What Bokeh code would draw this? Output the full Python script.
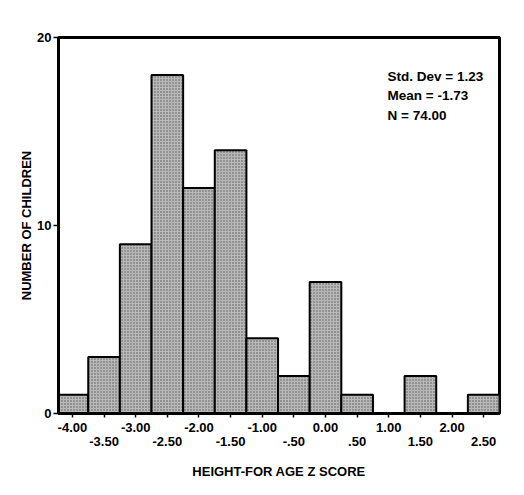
from bokeh.plotting import figure
from bokeh.models import FixedTicker, LinearAxis, Label, Range1d
from bokeh.embed import file_html
from bokeh.resources import INLINE

# ---- data ----
bin_centers = [-4.0, -3.5, -3.0, -2.5, -2.0, -1.5, -1.0, -0.5, 0.0, 0.5, 1.0, 1.5, 2.0, 2.5]
counts = [1, 3, 9, 18, 12, 14, 4, 2, 7, 1, 0, 2, 0, 1]
row1_ticks = [-4.0, -3.0, -2.0, -1.0, 0.0, 1.0, 2.0]
row1_labels = ["-4.00", "-3.00", "-2.00", "-1.00", "0.00", "1.00", "2.00"]
row2_ticks = [-3.5, -2.5, -1.5, -0.5, 0.5, 1.5, 2.5]
row2_labels = ["-3.50", "-2.50", "-1.50", "-.50", ".50", "1.50", "2.50"]
y_ticks = [0, 10, 20]
stats_lines = ["Std. Dev = 1.23", "Mean = -1.73", "N = 74.00"]
x_title = "HEIGHT-FOR AGE Z SCORE"
y_title = "NUMBER OF CHILDREN"

FONT = "Liberation Sans"

p = figure(width=524, height=495, output_backend="svg", toolbar_location=None,
           x_range=Range1d(-4.22, 2.75), y_range=Range1d(0, 20),
           min_border_left=58, min_border_right=25, min_border_top=37, min_border_bottom=82)
p.grid.visible = False
p.outline_line_color = "black"
p.outline_line_width = 3
p.background_fill_color = "white"
p.border_fill_color = "white"

p.vbar(x=bin_centers, top=counts, width=0.5, bottom=0,
       fill_color="#b8b8b8", line_color="black", line_width=2,
       hatch_pattern="dot", hatch_color="#5a5a5a", hatch_scale=3, hatch_weight=1)

# main x-axis: ticks at every bin, labels on whole numbers
xa = p.xaxis[0]
xa.ticker = FixedTicker(ticks=bin_centers)
overrides = {}
for t in bin_centers:
    overrides[t] = ""
for t, lab in zip(row1_ticks, row1_labels):
    overrides[t] = lab
xa.major_label_overrides = overrides
xa.minor_tick_line_color = None
xa.major_tick_out = 4
xa.major_tick_in = 0
xa.major_tick_line_width = 1.5
xa.axis_line_width = 3
xa.major_label_standoff = 5
xa.major_label_text_font = FONT
xa.major_label_text_font_style = "bold"
xa.major_label_text_font_size = "13px"
xa.major_label_text_color = "black"

# second row of labels
xb = LinearAxis(ticker=FixedTicker(ticks=row2_ticks))
xb.major_label_overrides = {t: lab for t, lab in zip(row2_ticks, row2_labels)}
xb.axis_line_color = None
xb.major_tick_line_color = None
xb.minor_tick_line_color = None
xb.major_tick_out = 0
xb.major_tick_in = 0
xb.major_label_standoff = 2
xb.major_label_text_font = FONT
xb.major_label_text_font_style = "bold"
xb.major_label_text_font_size = "13px"
xb.major_label_text_color = "black"
xb.axis_label = x_title
xb.axis_label_standoff = 15
xb.axis_label_text_font = FONT
xb.axis_label_text_font_style = "bold"
xb.axis_label_text_font_size = "13px"
xb.axis_label_text_color = "black"
p.add_layout(xb, "below")

ya = p.yaxis[0]
ya.ticker = FixedTicker(ticks=y_ticks)
ya.minor_tick_line_color = None
ya.major_tick_out = 5
ya.major_tick_in = 0
ya.major_tick_line_width = 1.5
ya.axis_line_width = 3
ya.major_label_standoff = 2
ya.major_label_text_font = FONT
ya.major_label_text_font_style = "bold"
ya.major_label_text_font_size = "13px"
ya.major_label_text_color = "black"
ya.axis_label = y_title
ya.axis_label_standoff = 0
ya.axis_label_text_font = FONT
ya.axis_label_text_font_style = "bold"
ya.axis_label_text_font_size = "13px"
ya.axis_label_text_color = "black"

for i, line in enumerate(stats_lines):
    p.add_layout(Label(x=0.98, y=17.95 - i * 1.06, text=line,
                       text_font=FONT, text_font_style="bold", text_font_size="13.5px",
                       text_color="black", text_baseline="middle"))

open("out.html", "w").write(file_html(p, INLINE))
